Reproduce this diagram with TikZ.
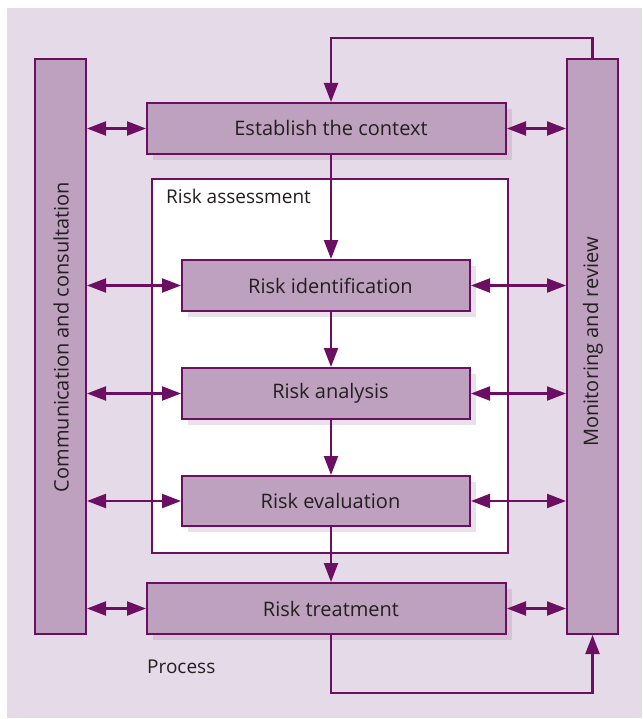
\documentclass[tikz,border=0pt]{standalone}
\usepackage{fontspec}
\setmainfont{Open Sans}
\usetikzlibrary{arrows.meta}
\definecolor{lineP}{HTML}{6C0F62}
\definecolor{boxP}{HTML}{BEA1BF}
\definecolor{bgP}{HTML}{E5DBE8}
\definecolor{txt}{HTML}{231F20}
\definecolor{shad}{HTML}{8A5A8C}
\tikzset{
  box/.style={draw=lineP, line width=2pt, fill=boxP, inner sep=0pt, text=txt, font=\fontsize{20}{24}\selectfont},
  bar/.style={box},
  conn/.style={draw=lineP, line width=2.2pt},
  onearrow/.style={conn, -{Triangle[length=19pt,width=14pt]}},
  twoarrow/.style={conn, {Triangle[length=19pt,width=14pt]}-{Triangle[length=19pt,width=14pt]}},
  shadowbox/.style={fill=shad, fill opacity=0.18, draw=none},
  label/.style={text=txt, font=\fontsize{19}{22}\selectfont, inner sep=0pt}
}
\begin{document}
\begin{tikzpicture}[x=1pt,y=-1pt]
\useasboundingbox (0,0) rectangle (642,719);
\fill[bgP] (7,8) rectangle (642,718);
% risk assessment frame
\node[draw=lineP, line width=2pt, fill=white, minimum width=356pt, minimum height=374pt, inner sep=0pt] (frame) at (330,366) {};
\node[label, anchor=west] (ralab) at (166,196) {Risk assessment};
% shadows
\fill[shadowbox] (153,109) rectangle (512,160);
\fill[shadowbox] (188,266) rectangle (476,317);
\fill[shadowbox] (188,374) rectangle (476,425);
\fill[shadowbox] (188,482) rectangle (476,532);
\fill[shadowbox] (153,589) rectangle (512,640);
% bars
\node[bar, minimum width=51pt, minimum height=575pt] (cc) at (60.5,346.5) {};
\node[label, rotate=90, font=\fontsize{20}{24}\selectfont] (cclab) at (61,337) {Communication and consultation};
\node[bar, minimum width=51pt, minimum height=575pt] (mr) at (592.5,346.5) {};
\node[label, rotate=90, font=\fontsize{20}{24}\selectfont] (mrlab) at (593,342) {Monitoring and review};
% boxes
\node[box, minimum width=359pt, minimum height=51pt] (ctx) at (326.5,128.5) {\hspace*{9pt}Establish the context};
\node[box, minimum width=288pt, minimum height=51pt] (ri) at (326,285.5) {\hspace*{9pt}Risk identification};
\node[box, minimum width=288pt, minimum height=51pt] (ra) at (326,393.5) {\hspace*{9pt}Risk analysis};
\node[box, minimum width=288pt, minimum height=50pt] (rev) at (326,501) {\hspace*{9pt}Risk evaluation};
\node[box, minimum width=359pt, minimum height=51pt] (rt) at (326.5,608.5) {\hspace*{9pt}Risk treatment};
\node[label, anchor=west] (proc) at (147,667) {Process};
% helper coordinates
\coordinate (ax) at (331,0);
\coordinate (topy) at (0,38);
\coordinate (boty) at (0,693);
% vertical flow
\draw[onearrow] (ctx.south -| ax) -- (ri.north -| ax);
\draw[onearrow] (ri.south -| ax) -- (ra.north -| ax);
\draw[onearrow] (ra.south -| ax) -- (rev.north -| ax);
\draw[onearrow] (rev.south -| ax) -- (rt.north -| ax);
% feedback loops
\draw[onearrow, line join=miter] (mr.north) -- (mr.north |- topy) -- (ax |- topy) -- (ctx.north -| ax);
\draw[onearrow, line join=miter] (rt.south -| ax) -- (ax |- boty) -- (mr.south |- boty) -- (mr.south);
% horizontal double arrows
\draw[twoarrow] (cc.east |- ctx.west) -- (ctx.west);
\draw[twoarrow] (ctx.east) -- (mr.west |- ctx.east);
\draw[twoarrow] (cc.east |- ri.west) -- (ri.west);
\draw[twoarrow] (ri.east) -- (mr.west |- ri.east);
\draw[twoarrow] (cc.east |- ra.west) -- (ra.west);
\draw[twoarrow] (ra.east) -- (mr.west |- ra.east);
\draw[twoarrow] (cc.east |- rev.west) -- (rev.west);
\draw[twoarrow] (rev.east) -- (mr.west |- rev.east);
\draw[twoarrow] (cc.east |- rt.west) -- (rt.west);
\draw[twoarrow] (rt.east) -- (mr.west |- rt.east);
\end{tikzpicture}
\end{document}
